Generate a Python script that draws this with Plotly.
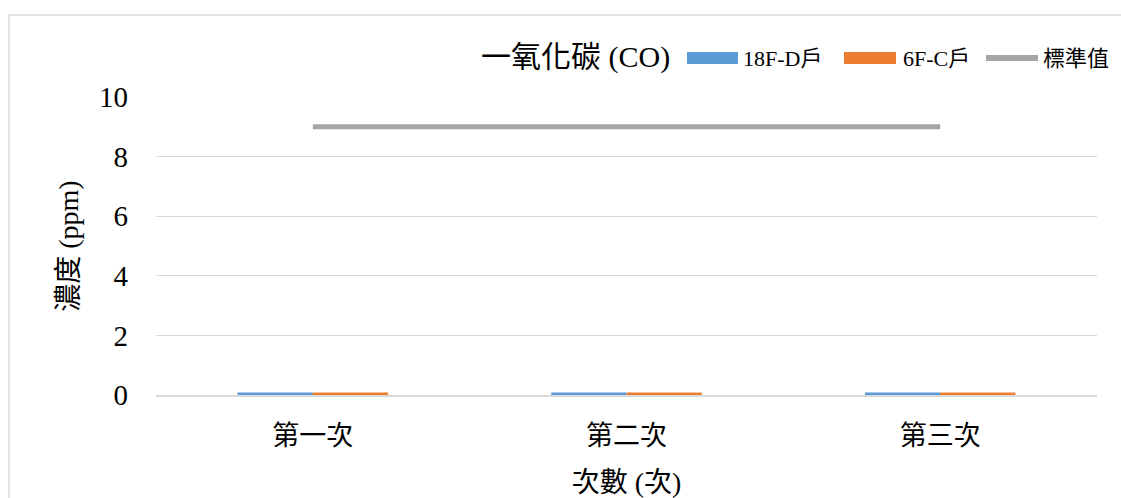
import plotly.graph_objects as go

# Measurement rounds and CO concentrations (ppm)
rounds = ["第一次", "第二次", "第三次"]
unit_18f_d = [0.08, 0.08, 0.08]
unit_6f_c = [0.08, 0.08, 0.08]
standard = [9, 9, 9]

legend_title = "一氧化碳 (CO)"
series_names = ["18F-D戶", "6F-C戶", "標準值"]
colors = ["#5B9BD5", "#ED7D31", "#A5A5A5"]

FONT = "Liberation Serif, 'Times New Roman', 'Noto Sans CJK TC', serif"

# plot area in pixels (used to place the hand-built legend in paper units)
L, R, T, B = 156, 1097, 97, 395


def px(x):
    return (x - L) / (R - L)


def py(y):
    return (B - y) / (B - T)


fig = go.Figure()
fig.add_trace(go.Bar(x=rounds, y=unit_18f_d, name=series_names[0],
                     marker=dict(color=colors[0], line_width=0)))
fig.add_trace(go.Bar(x=rounds, y=unit_6f_c, name=series_names[1],
                     marker=dict(color=colors[1], line_width=0)))
fig.add_trace(go.Scatter(x=rounds, y=standard, mode="lines", name=series_names[2],
                         line=dict(color=colors[2], width=5)))

# legend row: title, then swatch + label per series
legend_y = 58
shapes = [
    dict(type="rect", xref="paper", yref="paper",
         x0=px(687), x1=px(738), y0=py(64), y1=py(52),
         fillcolor=colors[0], line_width=0),
    dict(type="rect", xref="paper", yref="paper",
         x0=px(844), x1=px(896), y0=py(64), y1=py(52),
         fillcolor=colors[1], line_width=0),
    dict(type="line", xref="paper", yref="paper",
         x0=px(986), x1=px(1038), y0=py(legend_y), y1=py(legend_y),
         line=dict(color=colors[2], width=6)),
    # chart frame
    dict(type="rect", xref="paper", yref="paper",
         x0=px(9), x1=px(1140), y0=py(520), y1=py(15),
         line=dict(color="#D9D9D9", width=1.5), fillcolor="rgba(0,0,0,0)",
         layer="below"),
]
annotations = [
    dict(text=legend_title, xref="paper", yref="paper", x=px(672), y=py(57),
         xanchor="right", yanchor="middle", showarrow=False, font=dict(size=30)),
]
for name, x0 in zip(series_names, [741, 901, 1041]):
    annotations.append(dict(text=name, xref="paper", yref="paper", x=px(x0),
                            y=py(legend_y), xanchor="left", yanchor="middle",
                            showarrow=False, font=dict(size=22)))

fig.update_layout(
    width=1121, height=498,
    margin=dict(l=L, r=1121 - R, t=T, b=498 - B, autoexpand=False),
    paper_bgcolor="white", plot_bgcolor="white",
    font=dict(family=FONT, color="#000000"),
    barmode="group", bargap=0.52, bargroupgap=0,
    showlegend=False,
    xaxis=dict(
        showgrid=False, showline=True, linecolor="#D9D9D9", linewidth=1.5,
        ticks="", tickfont=dict(size=27), ticklabelstandoff=16,
        title=dict(text="次數 (次)", font=dict(size=28), standoff=22),
    ),
    yaxis=dict(
        range=[0, 10], dtick=2, showgrid=True, gridcolor="#D9D9D9", gridwidth=1,
        zeroline=False, showline=False, ticks="", tickfont=dict(size=29),
        ticklabelstandoff=27,
        title=dict(text="濃度 (ppm)", font=dict(size=28), standoff=12),
    ),
    shapes=shapes,
    annotations=annotations,
)

fig.write_html("out.html")
